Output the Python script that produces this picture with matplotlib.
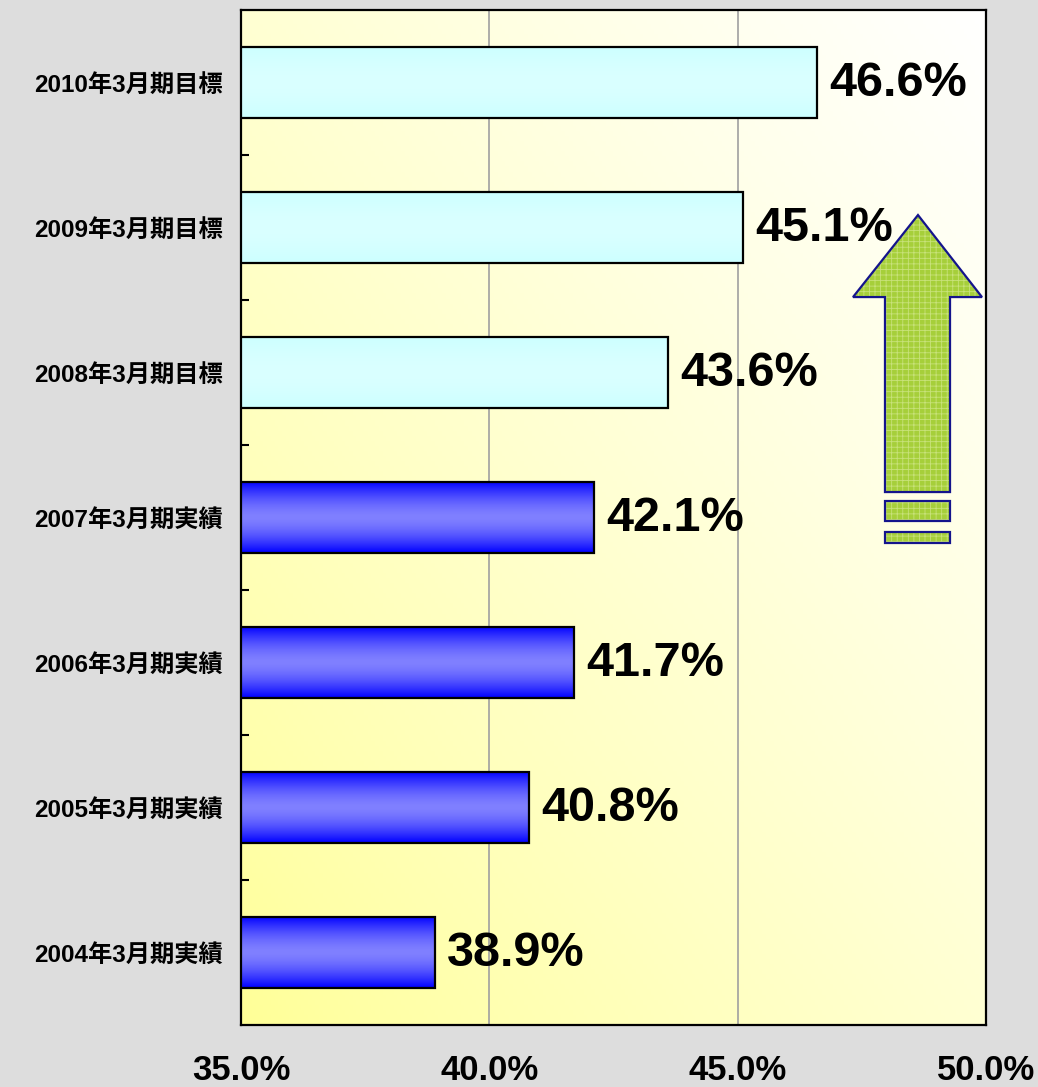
import matplotlib.pyplot as plt
import numpy as np
from matplotlib.patches import Polygon, Rectangle

plt.rcParams['font.family'] = ['Liberation Sans', 'Noto Sans CJK JP', 'DejaVu Sans']
plt.rcParams['hatch.linewidth'] = 0.6

# データ (下から順)
labels = ['2004年3月期実績', '2005年3月期実績', '2006年3月期実績', '2007年3月期実績',
          '2008年3月期目標', '2009年3月期目標', '2010年3月期目標']
values = [38.9, 40.8, 41.7, 42.1, 43.6, 45.1, 46.6]
is_target = [False, False, False, False, True, True, True]

fig = plt.figure(figsize=(10.38, 10.87), dpi=100, facecolor='#dddddd')
ax = fig.add_axes([0.2322, 0.0570, 0.7177, 0.9338])
ax.set_xlim(35, 50)
ax.set_ylim(-0.5, 6.5)

# 背景のグラデーション (左下: 黄色 -> 右上: 白)
gx, gy = np.meshgrid(np.linspace(0, 1, 200), np.linspace(0, 1, 200))
t = np.clip((gx + gy) / 2, 0, 1) ** 0.8
bg = np.zeros((200, 200, 3))
bg[..., 0] = 1.0
bg[..., 1] = 1.0
bg[..., 2] = (150 + (255 - 150) * t) / 255
ax.imshow(bg, extent=[0, 1, 0, 1], transform=ax.transAxes, origin='lower',
          aspect='auto', zorder=0)

ypos = np.arange(len(values))
bars = ax.barh(ypos, values, height=0.49, color='none', edgecolor='black',
               linewidth=1.6, zorder=3)

# 棒のグラデーション
s = np.linspace(0, 1, 100)
prof = 1 - np.abs(2 * s - 1) ** 1.6
x0 = ax.get_xlim()[0]
for b, v, tg in zip(bars, values, is_target):
    if tg:
        top = np.array([204, 255, 255]) / 255
        mid = np.array([218, 255, 255]) / 255
    else:
        top = np.array([0, 0, 255]) / 255
        mid = np.array([128, 128, 255]) / 255
    col = top[None, :] + (mid - top)[None, :] * prof[:, None]
    img = np.repeat(col[:, None, :], 2, axis=1)
    y0 = b.get_y()
    ax.imshow(img, extent=[x0, v, y0, y0 + b.get_height()], origin='lower',
              aspect='auto', zorder=2)
    ax.annotate(f'{v:.1f}%', (v, b.get_y() + b.get_height() / 2),
                xytext=(9, -1), textcoords='offset points', ha='left', va='center',
                fontsize=35, fontweight='bold', zorder=5)

ax.set_xlim(35, 50)
ax.set_ylim(-0.5, 6.5)
ax.set_xticks([35, 40, 45, 50])
ax.set_xticklabels(['35.0%', '40.0%', '45.0%', '50.0%'])
ax.set_yticks(ypos)
ax.set_yticklabels(labels, family=['Liberation Sans', 'Noto Sans CJK JP'],
                   fontweight='bold', fontsize=17.5)
ax.set_yticks(np.arange(0.5, 6.5, 1), minor=True)
ax.tick_params(axis='x', length=0, pad=21, labelsize=25)
for tl in ax.get_xticklabels():
    tl.set_fontweight('bold')
ax.tick_params(axis='y', which='major', length=0, pad=13)
ax.tick_params(axis='y', which='minor', direction='in', length=6, width=1.5, color='black')
ax.xaxis.grid(True, color='#a0a0a0', linewidth=1.2, zorder=1)
ax.set_axisbelow(True)
for sp in ax.spines.values():
    sp.set_linewidth(1.6)
    sp.set_zorder(6)

# 矢印
arrow_pts = [(0.9087, 0.798), (0.9946, 0.7172), (0.9517, 0.7172), (0.9517, 0.5251),
             (0.8644, 0.5251), (0.8644, 0.7172), (0.8215, 0.7172)]
rects = [(0.8644, 0.4966, 0.0873, 0.0197), (0.8644, 0.4749, 0.0873, 0.0108)]
green = '#a6cf3a'
ax.add_patch(Polygon(arrow_pts, closed=True, transform=ax.transAxes, facecolor=green,
                     edgecolor='#c8e27a', hatch='+++', linewidth=0, zorder=4))
ax.add_patch(Polygon(arrow_pts, closed=True, transform=ax.transAxes, facecolor='none',
                     edgecolor='#14148c', linewidth=1.6, zorder=4))
for (x, y, w, h) in rects:
    ax.add_patch(Rectangle((x, y), w, h, transform=ax.transAxes, facecolor=green,
                           edgecolor='#c8e27a', hatch='+++', linewidth=0, zorder=4))
    ax.add_patch(Rectangle((x, y), w, h, transform=ax.transAxes, facecolor='none',
                           edgecolor='#14148c', linewidth=1.6, zorder=4))

fig.savefig('out.png', dpi=100, facecolor=fig.get_facecolor())
